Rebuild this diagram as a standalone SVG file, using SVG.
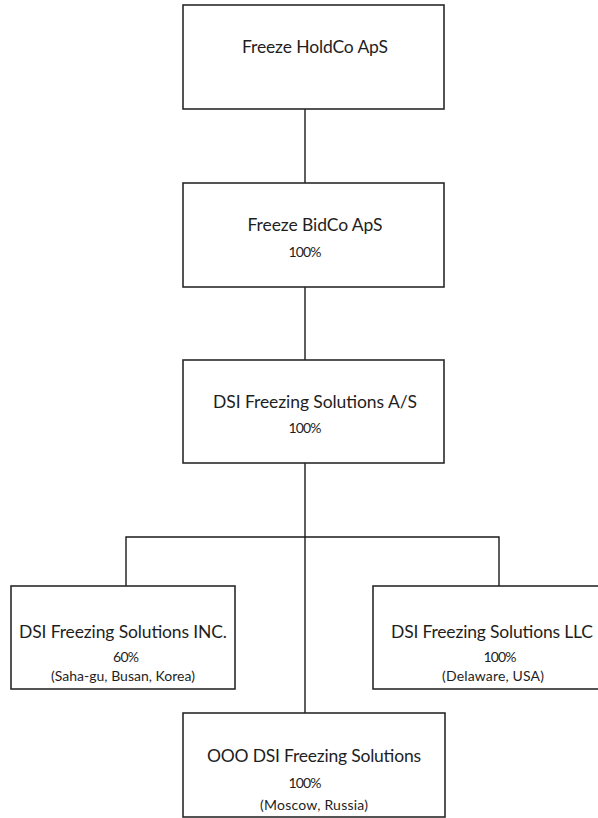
<svg xmlns="http://www.w3.org/2000/svg" width="598" height="818" viewBox="0 0 598 818">
<style>
.box{fill:#fff;stroke:#2a2a2a;stroke-width:1.6}
.ln{fill:none;stroke:#1a1a1a;stroke-width:1.4}
.t{font-family:Lato,"Liberation Sans",Arial,sans-serif;font-size:17.5px;fill:#1e1e1e;text-anchor:middle}
.p{font-family:Lato,"Liberation Sans",Arial,sans-serif;font-size:14px;fill:#1e1e1e;text-anchor:middle}
.l{font-family:Lato,"Liberation Sans",Arial,sans-serif;font-size:14px;fill:#1e1e1e;text-anchor:middle}
</style>
<rect width="598" height="818" fill="#fff"/>
<g id="connectors">
<line class="ln" x1="305" y1="109" x2="305" y2="183"/>
<line class="ln" x1="305" y1="287" x2="305" y2="360"/>
<line class="ln" x1="305" y1="463" x2="305" y2="713"/>
<polyline class="ln" points="126,586 126,537 499,537 499,586"/>
</g>
<g id="holdco">
<rect class="box" x="183" y="5" width="261" height="104"/>
<text class="t" x="315" y="53" textLength="146">Freeze HoldCo ApS</text>
</g>
<g id="bidco">
<rect class="box" x="183" y="183" width="261" height="104"/>
<text class="t" x="315" y="231" textLength="135">Freeze BidCo ApS</text>
<text class="p" x="305" y="257" textLength="33">100%</text>
</g>
<g id="dsi-as">
<rect class="box" x="183" y="360" width="261" height="103"/>
<text class="t" x="315" y="408" textLength="204">DSI Freezing Solutions A/S</text>
<text class="p" x="305" y="433" textLength="33">100%</text>
</g>
<g id="dsi-inc">
<rect class="box" x="11" y="586" width="224" height="103"/>
<text class="t" x="123" y="638" textLength="208">DSI Freezing Solutions INC.</text>
<text class="p" x="126" y="662" textLength="26">60%</text>
<text class="l" x="123" y="681" textLength="144">(Saha-gu, Busan, Korea)</text>
</g>
<g id="dsi-llc">
<rect class="box" x="373" y="586" width="240" height="103"/>
<text class="t" x="492" y="638" textLength="202">DSI Freezing Solutions LLC</text>
<text class="p" x="500" y="662" textLength="33">100%</text>
<text class="l" x="493" y="681" textLength="102">(Delaware, USA)</text>
</g>
<g id="ooo-dsi">
<rect class="box" x="183" y="713" width="262" height="104"/>
<text class="t" x="314" y="762" textLength="214">OOO DSI Freezing Solutions</text>
<text class="p" x="305" y="788" textLength="33">100%</text>
<text class="l" x="314" y="810" textLength="108">(Moscow, Russia)</text>
</g>
</svg>
